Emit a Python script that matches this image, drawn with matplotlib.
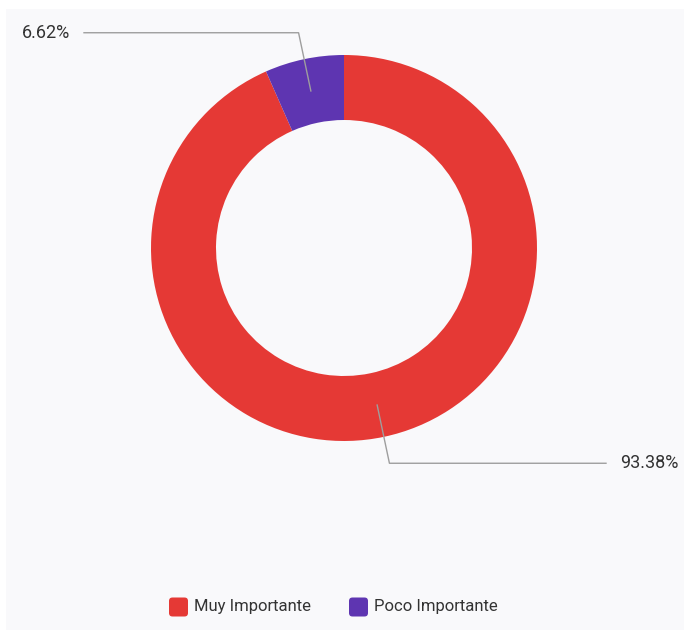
import numpy as np
import matplotlib
matplotlib.use("Agg")
import matplotlib.pyplot as plt
from matplotlib.patches import Rectangle, FancyBboxPatch

categories = ["Muy Importante", "Poco Importante"]
values = [93.38, 6.62]
colors = ["#e53935", "#5e35b1"]
value_labels = ["93.38%", "6.62%"]

W, H = 684, 630
fig = plt.figure(figsize=(W / 100, H / 100), dpi=100)
fig.patch.set_facecolor("white")
ax = fig.add_axes([0, 0, 1, 1])

# light panel behind the chart
ax.add_patch(Rectangle((6, 0), W - 6, H - 9, facecolor="#f9f9fb", edgecolor="none", zorder=0))

cx, cy = 344, H - 248
r_out, r_in = 193, 128
wedges, _ = ax.pie(values, colors=colors, startangle=90, counterclock=False,
                   center=(cx, cy), radius=r_out,
                   wedgeprops=dict(width=r_out - r_in, edgecolor="none"),
                   frame=True)
ax.set_xlim(0, W)
ax.set_ylim(0, H)
ax.set_aspect("equal")
ax.axis("off")

# leader lines and value labels
r_mid = (r_out + r_in) / 2
label_x = {0: 606, 1: 84}
for i, w in enumerate(wedges):
    ang = np.deg2rad((w.theta1 + w.theta2) / 2)
    px, py = cx + r_mid * np.cos(ang), cy + r_mid * np.sin(ang)
    ex, ey = cx + 220 * np.cos(ang), cy + 220 * np.sin(ang)
    lx = label_x[i]
    ax.plot([px, ex, lx], [py, ey, ey], color="#9e9e9e", lw=1.0, zorder=3)
    if lx > ex:
        ax.text(lx + 14, ey, value_labels[i], ha="left", va="center",
                fontsize=13, family="Roboto", color="#333333")
    else:
        ax.text(lx - 14, ey, value_labels[i], ha="right", va="center",
                fontsize=13, family="Roboto", color="#333333")

# legend
leg_y = H - 607
leg_items = [(169, categories[0], colors[0]), (349, categories[1], colors[1])]
for x0, name, col in leg_items:
    ax.add_patch(FancyBboxPatch((x0, leg_y - 9.5), 19, 19,
                                boxstyle="round,pad=0,rounding_size=3.5",
                                facecolor=col, edgecolor="none", zorder=3))
    ax.text(x0 + 25.5, leg_y, name, ha="left", va="center",
            fontsize=12, family="Roboto", color="#333333")

fig.savefig("out.png", dpi=100, facecolor="white")
